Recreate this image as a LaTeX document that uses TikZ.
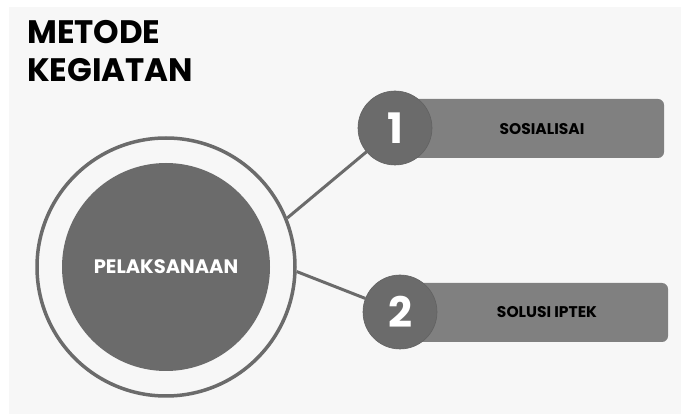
\documentclass[tikz,border=0pt]{standalone}
\usepackage{fontspec}
\setmainfont{Poppins}
\begin{document}
\begin{tikzpicture}[x=1pt,y=-1pt,
  bar/.style={fill=c80,rounded corners=6pt},
  num/.style={circle,fill=c6b,draw=c62,line width=0.6pt,minimum size=74pt,inner sep=0pt,text=white,font=\fontsize{42}{42}\selectfont\bfseries},
  lbl/.style={font=\fontsize{15.5}{18}\selectfont\bfseries,text=black},
  conn/.style={draw=c6b,line width=3pt}]
\definecolor{c6b}{HTML}{6B6B6B}
\definecolor{c62}{HTML}{626262}
\definecolor{c80}{HTML}{808080}
\definecolor{bg}{HTML}{F7F7F7}
\useasboundingbox (0,0) rectangle (681,414);
\fill[white] (0,0) rectangle (681,414);
\fill[bg] (9,7) rectangle (681,414);
\node[anchor=north west,inner sep=0pt,align=left,font=\fontsize{32.5}{38}\selectfont\bfseries] (title) at (27,20) {METODE\\KEGIATAN};
\coordinate (c) at (166,267);
\node[circle,draw=c6b,line width=3.5pt,minimum size=258pt,inner sep=0pt] (outer) at (c) {};
\node[circle,fill=c6b,minimum size=208pt,inner sep=0pt,text=white,font=\fontsize{19.5}{22}\selectfont\bfseries] (main) at (c) {PELAKSANAAN};
\fill[bar] (395,99) rectangle (664,158);
\fill[bar] (400,283) rectangle (668,342);
\node[num] (n1) at (395,128) {1};
\node[num] (n2) at (400,312) {2};
\draw[conn] (outer.22) -- (n1);
\draw[conn] (outer.-2) -- (n2);
\node[lbl] (l1) at (542,129) {SOSIALISAI};
\node[lbl] (l2) at (547,312) {SOLUSI IPTEK};
\end{tikzpicture}
\end{document}
